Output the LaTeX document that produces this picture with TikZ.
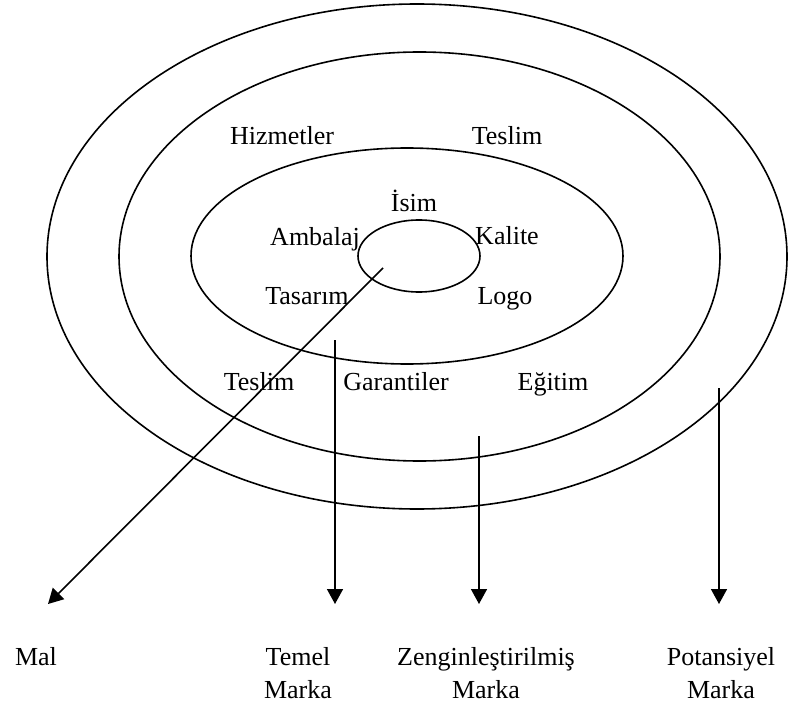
\documentclass[tikz,border=0pt]{standalone}
\usepackage{fontspec}
\setmainfont{Liberation Serif}
\usetikzlibrary{positioning,arrows.meta,shapes.geometric}
\tikzset{
  ring/.style={ellipse, draw=black, line width=1.6pt, inner sep=0pt},
  term/.style={anchor=base, inner sep=0pt, font=\fontsize{26}{33}\selectfont},
  brand/.style={anchor=base, inner sep=0pt, align=center, font=\fontsize{26}{33}\selectfont},
  flow/.style={-{Triangle[length=15pt, width=16pt]}, line width=1.6pt, draw=black}
}
\begin{document}
\begin{tikzpicture}[x=1pt, y=-1pt]
\useasboundingbox (0,0) rectangle (788,706);
% rings
\node[ring, minimum width=740pt, minimum height=505pt] (potential) at (417,256.5) {};
\node[ring, minimum width=601pt, minimum height=409pt] (enriched) at (419.5,256.5) {};
\node[ring, minimum width=432pt, minimum height=216pt] (basic) at (407,256) {};
\node[ring, minimum width=122pt, minimum height=72pt] (product) at (419,256) {};

% ring labels
\node[term] (services) at (282,145) {Hizmetler};
\node[term] (delivTop) at (507,145) {Teslim};
\node[term] (name) at (414,212) {İsim};
\node[term] (pack) at (315,245) {Ambalaj};
\node[term] (quality) at (507,244) {Kalite};
\node[term] (design) at (307,305) {Tasarım};
\node[term] (logo) at (505,305) {Logo};
\node[term] (delivLow) at (259,390) {Teslim};
\node[term] (warranty) at (396,390) {Garantiler};
\node[term] (training) at (553,390) {Eğitim};

% bottom labels (base = last line)
\node[brand] (mal) at (36,665) {Mal};
\node[brand] (temel) at (298,698) {Temel\\Marka};
\node[brand] (zengin) at (486,698) {Zenginleştirilmiş\\Marka};
\node[brand] (potansiyel) at (721,698) {Potansiyel\\Marka};

% arrow ends
\coordinate (malStart) at (383,268);
\coordinate (malEnd) at (48,604);
\coordinate (temelStart) at (335,340);
\coordinate (temelEnd) at (335,604);
\coordinate (zenginStart) at (479,436);
\coordinate (zenginEnd) at (479,604);
\coordinate (potStart) at (719,388);
\coordinate (potEnd) at (719,604);

\draw[flow] (malStart) -- (malEnd);
\draw[flow] (temelStart) -- (temelEnd);
\draw[flow] (zenginStart) -- (zenginEnd);
\draw[flow] (potStart) -- (potEnd);
\end{tikzpicture}
\end{document}
